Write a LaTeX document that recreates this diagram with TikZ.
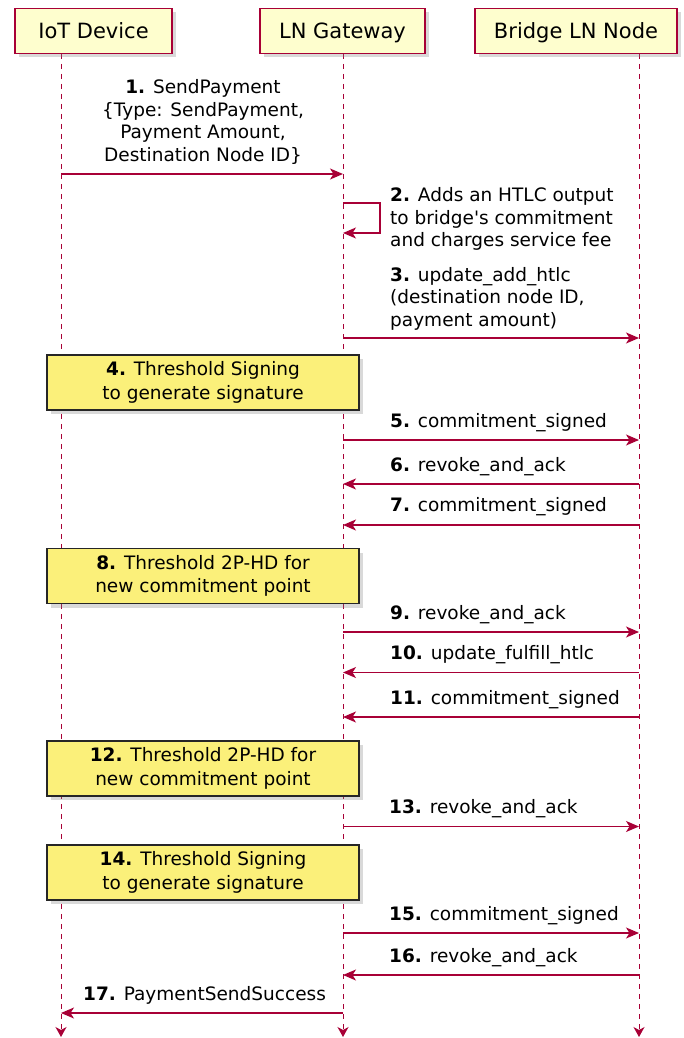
\documentclass[tikz,border=0pt]{standalone}
\usepackage{fontspec}
\setmainfont{DejaVu Sans}[Ligatures=TeXOff]
\usetikzlibrary{arrows.meta,shadows}

\definecolor{lifecol}{HTML}{A80036}
\definecolor{partfill}{HTML}{FEFECE}
\definecolor{notefill}{HTML}{FBF07A}

\tikzset{
  part/.style={draw=lifecol, fill=partfill, line width=1.2pt, minimum height=45pt,
    inner xsep=0pt, text height=16pt, text depth=0pt,
    font=\fontsize{21}{25}\selectfont,
    drop shadow={opacity=0.3, shadow xshift=4pt, shadow yshift=-4pt}},
  lifeline/.style={draw=lifecol, line width=1pt, dash pattern=on 5pt off 5pt,
    -{Stealth[length=10pt,width=11pt,inset=3pt,sep=0pt]}},
  msg/.style={draw=lifecol, line width=1.3pt,
    -{Stealth[length=13pt,width=11pt,inset=3.5pt]}},
  lbl/.style={inner sep=0pt, anchor=base west, align=left,
    font=\fontsize{18.5}{22.5}\selectfont},
  notebox/.style={draw=black!85, fill=notefill, line width=1.2pt,
    minimum width=312pt, minimum height=55pt, inner sep=0pt, align=center,
    font=\fontsize{18.5}{23.5}\selectfont,
    drop shadow={opacity=0.3, shadow xshift=4pt, shadow yshift=-4pt}}
}

\begin{document}
\begin{tikzpicture}[x=1pt,y=-1pt]
  \useasboundingbox (0,0) rectangle (683,1038);

  % lifelines
  \coordinate (iotL) at (61,54);
  \coordinate (gwL) at (343,54);
  \coordinate (brL) at (639,54);
  \coordinate (iotE) at (61,1037);
  \coordinate (gwE) at (343,1037);
  \coordinate (brE) at (639,1037);
  \draw[lifeline] (iotL) -- (iotE);
  \draw[lifeline] (gwL) -- (gwE);
  \draw[lifeline] (brL) -- (brE);

  % participants
  \node[part, minimum width=157pt] (iot) at (93.5,31) {IoT Device};
  \node[part, minimum width=165pt] (gw) at (342.5,31) {LN Gateway};
  \node[part, minimum width=202pt] (bridge) at (576,31) {Bridge LN Node};

  % 1 (base = last line)
  \node[lbl, anchor=base, align=center] (t1) at (203,161)
    {\textbf{1.} SendPayment\\\{Type: SendPayment,\\Payment Amount,\\Destination Node ID\}};
  \draw[msg] (iotL |- 0,174) -- (gwL |- 0,174);

  % 2
  \coordinate (s2a) at (380,203);
  \coordinate (s2b) at (380,233);
  \draw[msg] (gwL |- s2a) -- (s2a) -- (s2b) -- (gwL |- s2b);
  \node[lbl] (t2) at (390,246.5)
    {\textbf{2.} Adds an HTLC output\\to bridge's commitment\\and charges service fee};

  % 3
  \node[lbl] (t3) at (390,326)
    {\textbf{3.} update\_add\_htlc\\(destination node ID,\\payment amount)};
  \draw[msg] (gwL |- 0,338) -- (brL |- 0,338);

  % 4
  \node[notebox] (n4) at (203,382.5) {\textbf{4.} Threshold Signing\\to generate signature};

  % 5 - 7
  \node[lbl] (t5) at (390,427) {\textbf{5.} commitment\_signed};
  \draw[msg] (gwL |- 0,440) -- (brL |- 0,440);
  \node[lbl] (t6) at (390,471) {\textbf{6.} revoke\_and\_ack};
  \draw[msg] (brL |- 0,484) -- (gwL |- 0,484);
  \node[lbl] (t7) at (390,511.5) {\textbf{7.} commitment\_signed};
  \draw[msg] (brL |- 0,525) -- (gwL |- 0,525);

  % 8
  \node[notebox] (n8) at (203,576) {\textbf{8.} Threshold 2P-HD for\\new commitment point};

  % 9 - 11
  \node[lbl] (t9) at (390,619) {\textbf{9.} revoke\_and\_ack};
  \draw[msg] (gwL |- 0,632) -- (brL |- 0,632);
  \node[lbl] (t10) at (390,659.5) {\textbf{10.} update\_fulfill\_htlc};
  \draw[msg] (brL |- 0,672.5) -- (gwL |- 0,672.5);
  \node[lbl] (t11) at (390,704) {\textbf{11.} commitment\_signed};
  \draw[msg] (brL |- 0,717) -- (gwL |- 0,717);

  % 12
  \node[notebox] (n12) at (203,768.5) {\textbf{12.} Threshold 2P-HD for\\new commitment point};

  % 13
  \node[lbl] (t13) at (389,813.5) {\textbf{13.} revoke\_and\_ack};
  \draw[msg] (gwL |- 0,826.5) -- (brL |- 0,826.5);

  % 14
  \node[notebox] (n14) at (203,872.5) {\textbf{14.} Threshold Signing\\to generate signature};

  % 15 - 17
  \node[lbl] (t15) at (389,920) {\textbf{15.} commitment\_signed};
  \draw[msg] (gwL |- 0,933) -- (brL |- 0,933);
  \node[lbl] (t16) at (389,962) {\textbf{16.} revoke\_and\_ack};
  \draw[msg] (brL |- 0,975) -- (gwL |- 0,975);
  \node[lbl] (t17) at (83,1000.5) {\textbf{17.} PaymentSendSuccess};
  \draw[msg] (gwL |- 0,1013) -- (iotL |- 0,1013);
\end{tikzpicture}
\end{document}
